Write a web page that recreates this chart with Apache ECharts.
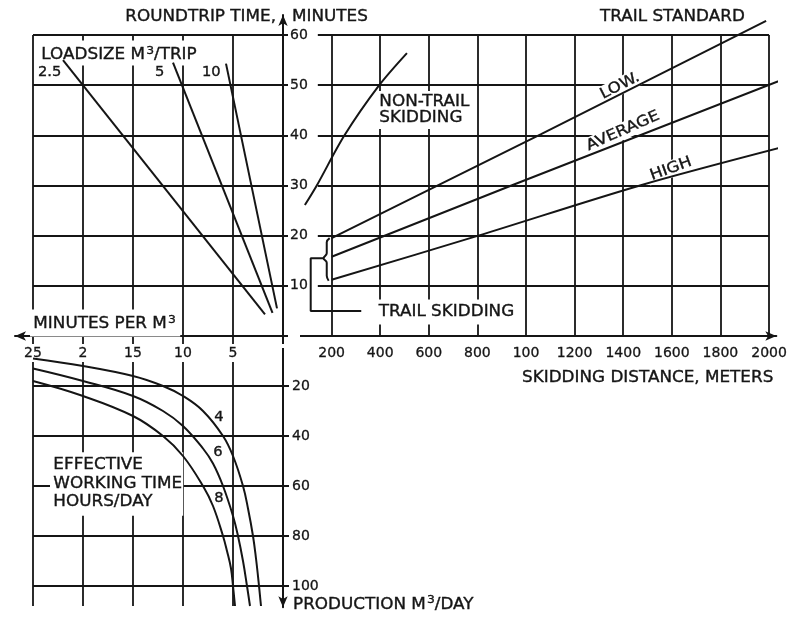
<!DOCTYPE html>
<html>
<head>
<meta charset="utf-8">
<script src="https://cdn.jsdelivr.net/npm/echarts@6/dist/echarts.min.js"></script>
<style>
  html, body { margin: 0; padding: 0; background: #fff; }
  #chart { width: 790px; height: 620px; }
</style>
</head>
<body>
<div id="chart"></div>
<script>
// Skidding distance axis (metres) and its printed labels
const distanceTicks = [200, 400, 600, 800, 1000, 1200, 1400, 1600, 1800, 2000];
const distanceTickLabels = ['200', '400', '600', '800', '100', '1200', '1400', '1600', '1800', '2000'];
// Roundtrip time axis (minutes)
const timeTicks = [10, 20, 30, 40, 50, 60];
// Minutes per m3 axis
const perM3Ticks = [25, 20, 15, 10, 5];
const perM3TickLabels = ['25', '2', '15', '10', '5'];
// Production axis (m3/day)
const productionTicks = [20, 40, 60, 80, 100];
const productionLineEnd = 108;

// Roundtrip time against skidding distance: [metres, minutes]
const nonTrailSkidding = [[90, 26.1], [139, 30], [253, 40], [396, 50], [510, 56.4]];
const trailLow = [[200, 19.5], [1060, 40.2], [1988, 62.8]];
const trailAverage = [[200, 15.8], [940, 30], [2060, 51.2]];
const trailHigh = [[200, 11.2], [804, 20], [1469, 30], [2060, 37.7]];

// Loadsize lines: [minutes per m3, roundtrip minutes]
const loadsizeNames = ['2.5', '5', '10'];
const load2_5 = [[22, 55], [1.8, 4.3]];
const load5 = [[11, 54.5], [1.05, 4.6]];
const load10 = [[5.7, 54.3], [0.6, 5.5]];

// Production by effective working hours/day: [minutes per m3, m3/day]
const hoursNames = ['4', '6', '8'];
const hours4 = [[25, 9], [20, 12], [15, 16], [12, 20], [10, 24], [8, 30], [6, 40], [5, 48], [4, 60], [3.5, 69], [3, 80], [2.7, 89], [2.45, 98], [2.2, 108]];
const hours6 = [[25, 13], [20, 18], [15, 24], [12, 30], [10, 36], [8, 45], [7, 51], [6, 60], [5, 72], [4.5, 80], [4, 90], [3.6, 100], [3.3, 108]];
const hours8 = [[25, 18], [20, 24], [15, 32], [12, 40], [10, 48], [8, 60], [7, 68], [6, 80], [5.6, 86], [5.2, 93], [5, 100], [4.8, 108]];

// Brace grouping the trail-skidding lines and its pointer to the label
const trailBrace = [[192, 19.5], [180, 18.7], [180, 16.5], [167, 15.5], [180, 14.6], [180, 12], [188, 11]];
const trailPointer = [[167, 15.5], [114, 15.5], [114, 5], [322, 5]];

const INK = '#151515';
const FONT = '"DejaVu Sans", "Liberation Sans", sans-serif';

const chart = echarts.init(document.getElementById('chart'), null, { renderer: 'canvas' });

function tickLabel(ticks, labels) {
  return function (v) {
    for (let i = 0; i < ticks.length; i++) {
      if (Math.abs(ticks[i] - v) < 1e-6) return labels[i];
    }
    return '';
  };
}

// inverse axes run from max to min on screen, so their arrow sits on the first end
function axisLine(inverse) {
  return {
    show: true, onZero: false,
    lineStyle: { color: INK, width: 2 },
    symbol: inverse ? ['arrow', 'none'] : ['none', 'arrow'],
    symbolSize: [7, 11]
  };
}

function gridLines(xi, yi, segments) {
  return {
    type: 'lines', coordinateSystem: 'cartesian2d',
    xAxisIndex: xi, yAxisIndex: yi, z: 1, silent: true, clip: false,
    polyline: false,
    lineStyle: { color: INK, width: 1.8, opacity: 1, curveness: 0 },
    data: segments.map(s => ({ coords: s }))
  };
}

function curve(xi, yi, data, smooth) {
  return {
    type: 'line', xAxisIndex: xi, yAxisIndex: yi, z: 5, silent: true, clip: false,
    data: data, smooth: smooth, showSymbol: false, symbol: 'none',
    lineStyle: { color: INK, width: 2 }
  };
}

// raised superscript token for the "m3" units
const SUP = { s: { fontFamily: FONT, fontSize: 11, verticalAlign: 'top', lineHeight: 11, padding: [0, 0, 0, 1] } };

function text(str, x, y, o) {
  o = o || {};
  const size = o.size || 15;
  const style = {
    text: str, fill: INK,
    stroke: INK, lineWidth: 0.35,
    font: size + 'px ' + FONT,
    fontFamily: FONT, fontSize: size,
    textAlign: o.align || 'left', textVerticalAlign: 'middle',
    align: o.align || 'left', verticalAlign: 'middle',
    rich: SUP
  };
  if (o.lh) style.lineHeight = o.lh;
  if (o.pad) { style.backgroundColor = '#fff'; style.padding = o.pad; }
  return {
    type: 'text', x: x, y: y, z: 4, silent: true,
    rotation: (o.rot || 0) * Math.PI / 180,
    scaleX: o.sx === undefined ? 1.12 : o.sx,
    style: style
  };
}

const tickFont = { fontFamily: FONT, fontSize: 14, color: INK, textBorderColor: INK, textBorderWidth: 0.3 };

const option = {
  animation: false,
  backgroundColor: '#fff',
  grid: [
    { left: 283, top: 14.93, width: 497.35, height: 321.07 },   // time vs distance
    { left: 15, top: 14.93, width: 268, height: 321.07 },       // time vs minutes per m3
    { left: 15, top: 336, width: 268, height: 271.25 }          // production vs minutes per m3
  ],
  xAxis: [
    {
      gridIndex: 0, type: 'value', min: 0, max: 2030, interval: 200, position: 'bottom', z: 3,
      axisLine: axisLine(false), axisTick: { show: false }, splitLine: { show: false },
      axisLabel: Object.assign({ margin: 10, formatter: tickLabel(distanceTicks, distanceTickLabels) }, tickFont)
    },
    {
      gridIndex: 1, type: 'value', inverse: true, min: 0, max: 26.8, interval: 5, position: 'bottom', z: 3,
      axisLine: axisLine(true), axisTick: { show: false }, splitLine: { show: false },
      axisLabel: Object.assign({
        margin: 8, backgroundColor: '#fff', padding: [2, 3, 2, 3],
        formatter: tickLabel(perM3Ticks, perM3TickLabels)
      }, tickFont)
    },
    { gridIndex: 2, type: 'value', inverse: true, min: 0, max: 26.8, show: false }
  ],
  yAxis: [
    {
      gridIndex: 0, type: 'value', min: 0, max: 64, interval: 10, position: 'left', z: 3,
      axisLine: axisLine(false), axisTick: { show: false }, splitLine: { show: false },
      axisLabel: Object.assign({
        inside: true, margin: 5, backgroundColor: '#fff', padding: [1, 10, 1, 2],
        formatter: tickLabel(timeTicks, timeTicks.map(String))
      }, tickFont)
    },
    { gridIndex: 1, type: 'value', min: 0, max: 64, show: false },
    {
      gridIndex: 2, type: 'value', inverse: true, min: 0, max: 108.5, interval: 20, position: 'right', z: 3,
      axisLine: axisLine(true), axisTick: { show: false }, splitLine: { show: false },
      axisLabel: Object.assign({ margin: 9, formatter: tickLabel(productionTicks, productionTicks.map(String)) }, tickFont)
    }
  ],
  series: [
    // grid work
    gridLines(0, 0, distanceTicks.map(d => [[d, 0], [d, 60]])
      .concat(timeTicks.map(t => [[0, t], [2000, t]]))),
    gridLines(1, 1, perM3Ticks.map(m => [[m, 0], [m, 60]])
      .concat(timeTicks.map(t => [[25, t], [0, t]]))),
    gridLines(2, 2, perM3Ticks.map(m => [[m, 0], [m, productionLineEnd]])
      .concat(productionTicks.map(p => [[25, p], [-0.6, p]]))),

    // roundtrip time against skidding distance
    curve(0, 0, nonTrailSkidding, 0.3),
    curve(0, 0, trailLow, false),
    curve(0, 0, trailAverage, false),
    curve(0, 0, trailHigh, 0.3),
    curve(0, 0, trailBrace, 0.4),
    curve(0, 0, trailPointer, false),

    // loadsize lines
    curve(1, 1, load2_5, false),
    curve(1, 1, load5, false),
    curve(1, 1, load10, false),

    // production curves
    curve(2, 2, hours4, 0.4),
    curve(2, 2, hours6, 0.4),
    curve(2, 2, hours8, 0.4)
  ],
  graphic: {
    elements: [
      text('ROUNDTRIP TIME,', 276, 17, { align: 'right' }),
      text('MINUTES', 292, 17),
      text('TRAIL STANDARD', 600, 17),
      text('LOADSIZE M{s|3}/TRIP', 38, 53, { lh: 20, pad: [5, 3, 0, 3] }),
      text(loadsizeNames[0], 38, 72, { size: 14, sx: 1.05 }),
      text(loadsizeNames[1], 155, 72, { size: 14, sx: 1.05 }),
      text(loadsizeNames[2], 202, 72, { size: 14, sx: 1.05 }),
      text('NON-TRAIL\nSKIDDING', 376, 110, { lh: 16, pad: [3, 4, 3, 3] }),
      text('LOW.', 620, 86, { align: 'center', rot: 27, pad: [1, 3, 1, 3] }),
      text('AVERAGE', 623, 131, { align: 'center', rot: 24, pad: [1, 3, 1, 3] }),
      text('HIGH', 671, 169, { align: 'center', rot: 20, pad: [1, 3, 1, 3] }),
      text('TRAIL SKIDDING', 372, 312, { pad: [5, 4, 5, 6] }),
      text('MINUTES PER M{s|3}', 30, 323, { lh: 20, pad: [5, 4, 2, 3] }),
      text('SKIDDING DISTANCE, METERS', 522, 378),
      text('EFFECTIVE\nWORKING TIME\nHOURS/DAY', 50, 484, { lh: 18.5, pad: [4, 1, 4, 3] }),
      text(hoursNames[0], 219, 417, { size: 14, align: 'center', sx: 1.05 }),
      text(hoursNames[1], 218, 452, { size: 14, align: 'center', sx: 1.05 }),
      text(hoursNames[2], 219, 498, { size: 14, align: 'center', sx: 1.05 }),
      text('PRODUCTION M{s|3}/DAY', 293, 605, { lh: 20 })
    ]
  }
};

chart.setOption(option);
</script>
</body>
</html>
